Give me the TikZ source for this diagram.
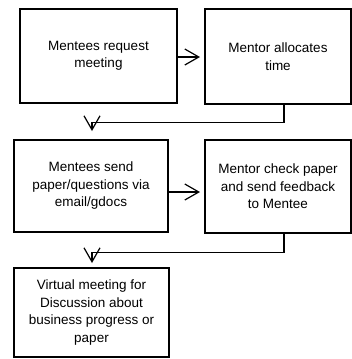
\documentclass[tikz,border=0pt]{standalone}
\usepackage{fontspec}
\setmainfont{Liberation Sans}
\usetikzlibrary{arrows.meta,calc}
\begin{document}
\begin{tikzpicture}[x=1pt,y=-1pt,
  stepbox/.style={draw=black,line width=1.2pt,align=center,inner sep=2pt,
    font=\fontsize{13.5}{17.5}\selectfont},
  link/.style={line width=1.2pt,-{Straight Barb[length=14pt,width=16pt,line width=1.2pt]}}]
\useasboundingbox (0,0) rectangle (352,359);
\node[stepbox,minimum width=157pt,minimum height=94pt] (b1) at (98.5,56) {Mentees request\\meeting};
\node[stepbox,minimum width=146pt,minimum height=95pt] (b2) at (278,56.5) {Mentor allocates\\time};
\node[stepbox,minimum width=154pt,minimum height=92pt] (b3) at (91,186) {Mentees send\\paper/questions via\\email/gdocs};
\node[stepbox,minimum width=146pt,minimum height=93pt] (b4) at (278,186.5) {Mentor check paper\\and send feedback\\to Mentee};
\node[stepbox,minimum width=155pt,minimum height=89pt] (b5) at (91.5,312.5) {Virtual meeting for\\Discussion about\\business progress or\\paper};
\coordinate (t1) at (200,57);
\coordinate (t2) at (200,192);
\coordinate (t3) at (92,131);
\coordinate (t4) at (92,263);
\draw[link] (b1.east |- t1) -- (t1);
\draw[link] (b3.east |- t2) -- (t2);
\draw[link] ($(b2.south)+(6,0)$) -- ++(0,17.5) -| (t3);
\draw[link] ($(b4.south)+(6,0)$) -- ++(0,19) -| (t4);
\end{tikzpicture}
\end{document}
